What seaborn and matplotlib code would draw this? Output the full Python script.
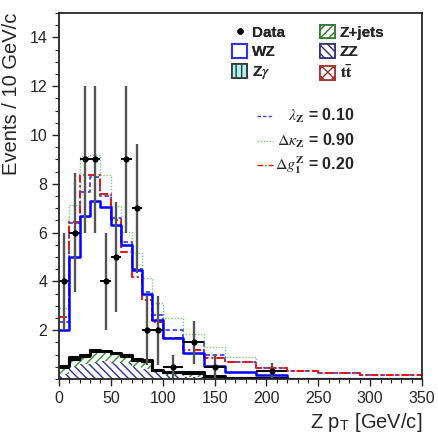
import matplotlib
matplotlib.use("Agg")
import matplotlib.pyplot as plt
import numpy as np
import seaborn as sns
from matplotlib.patches import Patch
from matplotlib.lines import Line2D
from matplotlib.ticker import MultipleLocator

# bin edges in Z pT [GeV/c]
edges = [0, 10, 20, 30, 40, 50, 60, 70, 80, 90, 100, 120, 140, 160, 190, 220, 250, 290, 350]

# expected yields, events / 10 GeV/c
wz = [2.0, 5.0, 6.7, 7.3, 7.05, 6.3, 5.5, 4.45, 3.5, 2.4, 1.67, 1.08, 0.55, 0.3, 0.15, 0.0, 0.0, 0.0]
lam_z = [2.35, 6.4, 7.68, 8.29, 7.5, 6.6, 5.63, 4.5, 3.58, 2.62, 2.0, 1.53, 0.98, 0.71, 0.44, 0.34, 0.24, 0.16]
dkappa_z = [2.9, 7.15, 9.15, 9.2, 8.36, 7.1, 6.04, 5.15, 4.13, 3.1, 2.5, 1.85, 1.32, 0.91, 0.5, 0.35, 0.24, 0.16]
dg1_z = [2.55, 6.45, 8.36, 8.36, 7.6, 6.5, 5.2, 4.2, 3.24, 2.35, 1.67, 1.18, 0.85, 0.71, 0.44, 0.34, 0.24, 0.16]

# backgrounds
zz = [0.2, 0.5, 0.62, 0.71, 0.74, 0.71, 0.64, 0.5, 0.4, 0.3, 0.18, 0.1, 0.06, 0.04, 0.02, 0.01, 0.0, 0.0]
zjets = [0.24, 0.28, 0.3, 0.4, 0.35, 0.3, 0.25, 0.22, 0.3, 0.04, 0.07, 0.12, 0.03, 0.01, 0.0, 0.0, 0.0, 0.0]
zgamma = [0.08, 0.09, 0.06, 0.06, 0.04, 0.03, 0.05, 0.05, 0.05, 0.02, 0.03, 0.04, 0.02, 0.01, 0.01, 0.0, 0.0, 0.0]
ttbar = [0.03, 0.04, 0.02, 0.02, 0.02, 0.01, 0.04, 0.03, 0.03, 0.01, 0.02, 0.02, 0.01, 0.0, 0.0, 0.0, 0.0, 0.0]

# observed events per bin
data_counts = [4, 6, 9, 9, 4, 5, 9, 7, 2, 2, 1, 3, 1, 0, 1, 0, 0, 0]

edges_a = np.array(edges, dtype=float)
centers = 0.5 * (edges_a[:-1] + edges_a[1:])
widths = np.diff(edges_a)

sns.set_style("ticks")
plt.rcParams["font.family"] = ["Liberation Sans", "DejaVu Sans"]
plt.rcParams["mathtext.fontset"] = "stix"
plt.rcParams["hatch.linewidth"] = 1.0

fig = plt.figure(figsize=(4.39, 4.36), dpi=100)
ax = fig.add_axes([0.1344, 0.1307, 0.8269, 0.8394])


def hist(vals, **kw):
    sns.histplot(x=centers, weights=vals, bins=edges, element="step", stat="count", ax=ax, **kw)


# stacked backgrounds, drawn top layer first
s1 = np.array(zz)
s2 = s1 + np.array(zjets)
s3 = s2 + np.array(zgamma)
s4 = s3 + np.array(ttbar)
layers = [
    (s4, "white", "#b03030", "xxx"),
    (s3, "#aaf4f4", "#555555", "|||"),
    (s2, "white", "#2e9a2e", "////"),
    (s1, "white", "#3030a0", "\\\\\\\\"),
]
for vals, fc, hc, hatch in layers:
    hist(vals, fill=True, facecolor=fc, edgecolor=hc, hatch=hatch, linewidth=0, alpha=1)
for vals, lw in [(s4, 2.2), (s3, 1.2), (s2, 1.5)]:
    hist(vals, fill=False, color="black", linewidth=lw)

# signal and anomalous couplings
hist(dkappa_z, fill=False, color="#77cc77", linewidth=1.0, linestyle=(0, (1, 1.2)))
hist(lam_z, fill=False, color="#4444ee", linewidth=1.3, linestyle=(0, (2.5, 1.5)))
hist(dg1_z, fill=False, color="#ee1111", linewidth=1.4, linestyle=(0, (4, 1.5, 1, 1.5)))
hist(wz, fill=False, color="#0000ff", linewidth=1.8)

# data
counts = np.array(data_counts, dtype=float)
mask = counts > 0
dval = counts * 10 / widths
derr = np.sqrt(counts) * 10 / widths
ax.errorbar(centers[mask], dval[mask], yerr=derr[mask], fmt="none", ecolor="#555555", elinewidth=1.7, capsize=0)
ax.errorbar(centers[mask], dval[mask], xerr=widths[mask] / 2, fmt="none", ecolor="black", elinewidth=1.4, capsize=0)
sns.scatterplot(x=centers[mask], y=dval[mask], color="black", s=20, ax=ax, zorder=5, linewidth=0)

ax.set_xlim(0, 350)
ax.set_ylim(0, 15)
ax.set_yticks([2, 4, 6, 8, 10, 12, 14])
ax.xaxis.set_major_locator(MultipleLocator(50))
ax.xaxis.set_minor_locator(MultipleLocator(10))
ax.yaxis.set_minor_locator(MultipleLocator(0.5))
ax.tick_params(axis="both", which="major", labelsize=11.5, length=5, width=1, direction="out")
ax.tick_params(axis="both", which="minor", length=3, width=0.8, direction="out")
for sp in ax.spines.values():
    sp.set_linewidth(1.3)
    sp.set_visible(True)

ax.set_xlabel(r"Z p$_\mathregular{T}$ [GeV/c]", fontsize=14.5, loc="right", labelpad=4)
ax.set_ylabel("Events / 10 GeV/c", fontsize=14.5, loc="top")
ax.yaxis.set_label_coords(-0.105, 1.0)

# legend of samples
handles = [
    Line2D([], [], marker="o", color="black", linestyle="none", markersize=3.5),
    Patch(facecolor="white", edgecolor="#3333dd", linewidth=1.5),
    Patch(facecolor="#aaf4f4", edgecolor="#333333", hatch="|||", linewidth=1.2),
    Patch(facecolor="white", edgecolor="#2e7a2e", hatch="////", linewidth=1.2),
    Patch(facecolor="white", edgecolor="#303070", hatch="\\\\\\\\", linewidth=1.2),
    Patch(facecolor="white", edgecolor="#a03030", hatch="xxx", linewidth=1.2),
]
labels = ["Data", "WZ", r"Z$\gamma$", "Z+jets", "ZZ", r"$\mathbf{t\bar{t}}$"]
leg = ax.legend(handles, labels, ncol=2, loc="upper left", bbox_to_anchor=(0.46, 0.985),
                frameon=False, prop={"weight": "bold", "size": 11},
                handlelength=1.0, handleheight=1.0, handletextpad=0.3,
                labelspacing=0.3, columnspacing=2.3, borderaxespad=0)
ax.add_artist(leg)

# legend of anomalous couplings
coup = [
    (r"$\lambda_{\mathbf{Z}}$ = 0.10", "#4444ee", (0, (2.5, 1.5)), 0.719),
    (r"$\Delta\kappa_{\mathbf{Z}}$ = 0.90", "#77cc77", (0, (1, 1.2)), 0.651),
    (r"$\Delta g^{\mathbf{Z}}_{\mathbf{1}}$ = 0.20", "#ee1111", (0, (4, 1.5, 1, 1.5)), 0.585),
]
for txt, col, ls, yy in coup:
    ax.plot([0.545, 0.59], [yy, yy], transform=ax.transAxes, color=col, linestyle=ls, linewidth=1.0)
    ax.text(0.815, yy, txt, transform=ax.transAxes, ha="right", va="center",
            fontsize=11.5, fontweight="bold")

fig.savefig("out.png", dpi=100)
